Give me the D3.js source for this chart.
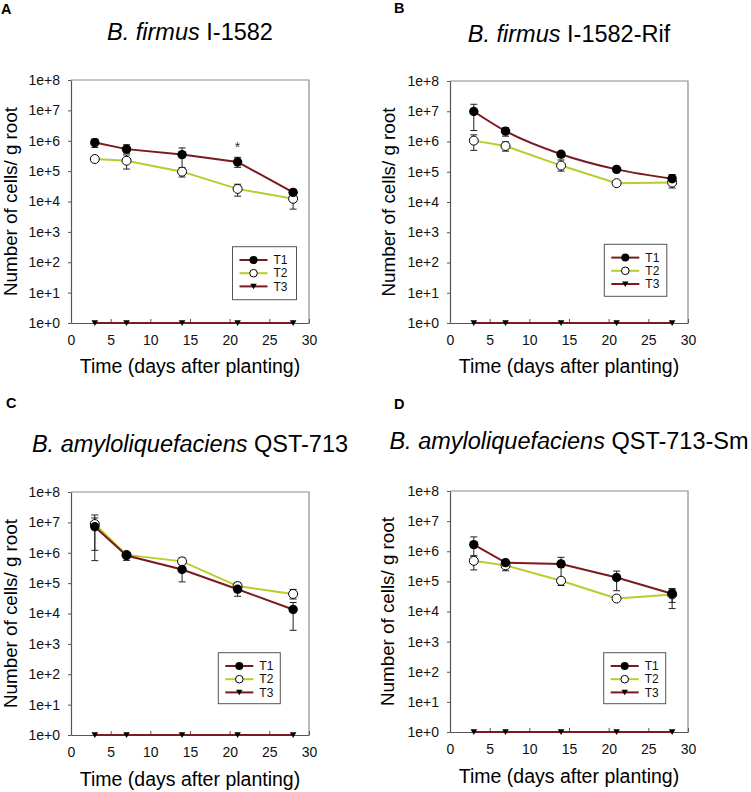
<!DOCTYPE html>
<html>
<head>
<meta charset="utf-8">
<script src="https://cdn.jsdelivr.net/npm/d3@7"></script>
<style>
  html, body { margin: 0; padding: 0; background: #fff; }
  svg { display: block; font-family: "Liberation Sans", Arial, sans-serif; }
</style>
</head>
<body>
<svg id="chart" width="751" height="792"></svg>
<script>
// ---------------- DATA ----------------
const days = [3, 7, 14, 21, 28];
const panelLetters = ["A", "B", "C", "D"];
const titleItalic = ["B. firmus", "B. firmus", "B. amyloliquefaciens", "B. amyloliquefaciens"];
const titleRoman = ["I-1582", "I-1582-Rif", "QST-713", "QST-713-Sm"];
const seriesNames = ["T1", "T2", "T3"];
const yTickValues = [1e0, 1e1, 1e2, 1e3, 1e4, 1e5, 1e6, 1e7, 1e8];
const xTickValues = [0, 5, 10, 15, 20, 25, 30];
const yLabel = "Number of cells/ g root";
const xLabel = "Time (days after planting)";

// Panel A
const aT1   = [8.7e5, 5.3e5, 3.5e5, 2.0e5, 2.0e4];
const aT1Hi = [1.15e6, 7.4e5, 5.8e5, 2.85e5, 2.5e4];
const aT1Lo = [6.0e5, 3.9e5, 1.2e5, 1.33e5, 1.8e4];
const aT2   = [2.5e5, 2.2e5, 9.6e4, 2.6e4, 1.23e4];
const aT2Hi = [3.0e5, 3.4e5, 1.3e5, 3.7e4, 1.8e4];
const aT2Lo = [2.1e5, 1.17e5, 6.4e4, 1.5e4, 5.6e3];
// Panel B
const bT1   = [9.8e6, 2.2e6, 3.8e5, 1.2e5, 5.9e4];
const bT1Hi = [1.7e7, 2.9e6, 4.7e5, 1.35e5, 8.1e4];
const bT1Lo = [2.3e6, 1.5e6, 2.95e5, 1.07e5, 4.1e4];
const bT2   = [1.07e6, 7.1e5, 1.6e5, 4.2e4, 4.4e4];
const bT2Hi = [1.66e6, 9.7e5, 2.45e5, 4.9e4, 5.75e4];
const bT2Lo = [5.1e5, 4.8e5, 1.05e5, 3.6e4, 2.9e4];
// Panel C
const cT1   = [7.2e6, 8.1e5, 2.8e5, 6.3e4, 1.35e4];
const cT1Hi = [1.75e7, 1.07e6, 4.3e5, 9.5e4, 2.3e4];
const cT1Lo = [5.5e5, 5.6e5, 1.1e5, 3.7e4, 2.8e3];
const cT2   = [8.8e6, 8.5e5, 5.2e5, 8.0e4, 4.4e4];
const cT2Hi = [1.4e7, 1.0e6, 6.8e5, 1.05e5, 6.2e4];
const cT2Lo = [1.2e6, 6.6e5, 4.3e5, 5.9e4, 3.0e4];
// Panel D
const dT1   = [1.66e6, 4.2e5, 3.8e5, 1.35e5, 3.9e4];
const dT1Hi = [3.0e6, 4.7e5, 6.3e5, 2.2e5, 5.8e4];
const dT1Lo = [7.0e5, 3.5e5, 1.3e5, 4.9e4, 2.0e4];
const dT2   = [4.8e5, 3.4e5, 1.05e5, 2.7e4, 3.7e4];
const dT2Hi = [7.0e5, 3.9e5, 1.3e5, 2.7e4, 5.5e4];
const dT2Lo = [2.4e5, 2.25e5, 7.3e4, 2.7e4, 1.25e4];
// T3 (not detected) in every panel
const t3 = [1, 1, 1, 1, 1];
// Significance marker (panel A, day 21)
const starDay = 21, starValue = 6.8e5;

// ---------------- LAYOUT / STYLE ----------------
const COL_T1 = "#7a1a1c";
const COL_T2 = "#bccb2a";
const COL_T3 = "#7a1a1c";
const FONT = '"Liberation Sans", Arial, sans-serif';

const panels = [
  { frame: [71, 309, 80, 323],  title: [190, 40],  yl: 17, xl: 373, legend: [232.5, 246.7, 64, 53], curved: false,
    t1: aT1, t1Hi: aT1Hi, t1Lo: aT1Lo, t2: aT2, t2Hi: aT2Hi, t2Lo: aT2Lo, star: true },
  { frame: [450, 688, 81, 323], title: [569, 42],  yl: 395, xl: 373, legend: [604.3, 244.3, 62.5, 52], curved: true,
    t1: bT1, t1Hi: bT1Hi, t1Lo: bT1Lo, t2: bT2, t2Hi: bT2Hi, t2Lo: bT2Lo },
  { frame: [71, 309, 492, 735], title: [190, 452], yl: 17, xl: 786, legend: [218.3, 652.7, 62, 51], curved: false,
    t1: cT1, t1Hi: cT1Hi, t1Lo: cT1Lo, t2: cT2, t2Hi: cT2Hi, t2Lo: cT2Lo },
  { frame: [450, 688, 491, 732], title: [569, 449], yl: 394, xl: 783, legend: [603.7, 652.7, 62, 51], curved: false,
    t1: dT1, t1Hi: dT1Hi, t1Lo: dT1Lo, t2: dT2, t2Hi: dT2Hi, t2Lo: dT2Lo }
];
const letterPos = [[1, 13.5], [394, 12.5], [6, 408], [394, 408.5]];

const svg = d3.select("#chart");

function triangleDown(g, x, y, s) {
  g.append("path")
    .attr("d", `M${x - s},${y - s * 0.8}L${x + s},${y - s * 0.8}L${x},${y + s * 0.9}Z`)
    .attr("fill", "#000");
}

panels.forEach((p, i) => {
  const [L, R, T, B] = p.frame;
  const x = d3.scaleLinear().domain([0, 30]).range([L, R]);
  const y = d3.scaleLog().domain([1, 1e8]).range([B, T]);
  const g = svg.append("g");

  // panel letter
  svg.append("text").attr("x", letterPos[i][0]).attr("y", letterPos[i][1])
    .attr("font-size", 14.5).attr("font-weight", "bold").attr("fill", "#000")
    .text(panelLetters[i]);

  // title
  const tt = svg.append("text").attr("x", p.title[0]).attr("y", p.title[1])
    .attr("text-anchor", "middle").attr("font-size", 23.5).attr("fill", "#000");
  tt.append("tspan").attr("font-style", "italic").text(titleItalic[i]);
  tt.append("tspan").text(" " + titleRoman[i]);

  // frame (top/right lighter)
  g.append("path").attr("d", `M${L},${T}H${R}V${B}`).attr("fill", "none")
    .attr("stroke", "#8c8c8c").attr("stroke-width", 1.2);

  // axes
  const yAxis = d3.axisLeft(y).tickValues(yTickValues)
    .tickFormat(v => "1e+" + Math.round(Math.log10(v)))
    .tickSizeInner(3).tickSizeOuter(0).tickPadding(8);
  const ya = g.append("g").attr("transform", `translate(${L},0)`).call(yAxis);
  const xAxis = d3.axisBottom(x).tickValues(xTickValues)
    .tickSizeInner(-4).tickSizeOuter(0).tickPadding(12);
  const xa = g.append("g").attr("transform", `translate(0,${B})`).call(xAxis);
  [ya, xa].forEach(a => {
    a.select(".domain").attr("stroke", "#555").attr("stroke-width", 1.2);
    a.selectAll(".tick line").attr("stroke", "#555");
    a.selectAll(".tick text").attr("font-size", 14).attr("font-family", FONT).attr("fill", "#111");
  });

  // axis labels
  svg.append("text")
    .attr("transform", `translate(${p.yl},${(T + B) / 2}) rotate(-90)`)
    .attr("text-anchor", "middle").attr("font-size", 18.8).attr("fill", "#000")
    .text(yLabel);
  svg.append("text").attr("x", (L + R) / 2).attr("y", p.xl)
    .attr("text-anchor", "middle").attr("font-size", 19.5).attr("fill", "#000")
    .text(xLabel);

  // lines
  const line = d3.line().x(d => x(d[0])).y(d => y(d[1]))
    .curve(p.curved ? d3.curveMonotoneX : d3.curveLinear);
  const lineStraight = d3.line().x(d => x(d[0])).y(d => y(d[1]));
  const z = (arr) => days.map((d, k) => [d, arr[k]]);

  g.append("path").datum(z(t3)).attr("d", lineStraight).attr("fill", "none")
    .attr("stroke", COL_T3).attr("stroke-width", 2);
  g.append("path").datum(z(p.t2)).attr("d", lineStraight).attr("fill", "none")
    .attr("stroke", COL_T2).attr("stroke-width", 2);
  g.append("path").datum(z(p.t1)).attr("d", line).attr("fill", "none")
    .attr("stroke", COL_T1).attr("stroke-width", 2);

  // error bars
  function errBars(hi, lo) {
    days.forEach((d, k) => {
      const cx = x(d), y1 = y(hi[k]), y2 = y(lo[k]);
      if (Math.abs(y1 - y2) < 0.5) return;
      g.append("line").attr("x1", cx).attr("x2", cx).attr("y1", y1).attr("y2", y2)
        .attr("stroke", "#222").attr("stroke-width", 1);
      [y1, y2].forEach(yy => g.append("line").attr("x1", cx - 3.5).attr("x2", cx + 3.5)
        .attr("y1", yy).attr("y2", yy).attr("stroke", "#222").attr("stroke-width", 1));
    });
  }
  errBars(p.t2Hi, p.t2Lo);
  errBars(p.t1Hi, p.t1Lo);

  // markers
  days.forEach((d, k) => triangleDown(g, x(d), y(t3[k]), 3.3));
  days.forEach((d, k) => g.append("circle").attr("cx", x(d)).attr("cy", y(p.t2[k])).attr("r", 4.5)
    .attr("fill", "#fff").attr("stroke", "#000").attr("stroke-width", 1));
  days.forEach((d, k) => g.append("circle").attr("cx", x(d)).attr("cy", y(p.t1[k])).attr("r", 4.7)
    .attr("fill", "#000"));

  if (p.star) {
    g.append("text").attr("x", x(starDay)).attr("y", y(starValue) + 6)
      .attr("text-anchor", "middle").attr("font-size", 14).attr("fill", "#333").text("*");
  }

  // legend
  const [lx, ly, lw, lh] = p.legend;
  const lg = g.append("g");
  lg.append("rect").attr("x", lx).attr("y", ly).attr("width", lw).attr("height", lh)
    .attr("fill", "#fff").attr("stroke", "#555").attr("stroke-width", 1);
  const cols = [COL_T1, COL_T2, COL_T3];
  seriesNames.forEach((nm, k) => {
    const yy = ly + 13.3 + k * 13.2;
    lg.append("line").attr("x1", lx + 7).attr("x2", lx + 35).attr("y1", yy).attr("y2", yy)
      .attr("stroke", cols[k]).attr("stroke-width", 2);
    if (k === 0) lg.append("circle").attr("cx", lx + 21).attr("cy", yy).attr("r", 4).attr("fill", "#000");
    if (k === 1) lg.append("circle").attr("cx", lx + 21).attr("cy", yy).attr("r", 3.8)
      .attr("fill", "#fff").attr("stroke", "#000").attr("stroke-width", 1);
    if (k === 2) triangleDown(lg, lx + 21, yy, 3.2);
    lg.append("text").attr("x", lx + 41).attr("y", yy + 4.2).attr("font-size", 12)
      .attr("fill", "#111").text(nm);
  });
});
</script>
</body>
</html>
